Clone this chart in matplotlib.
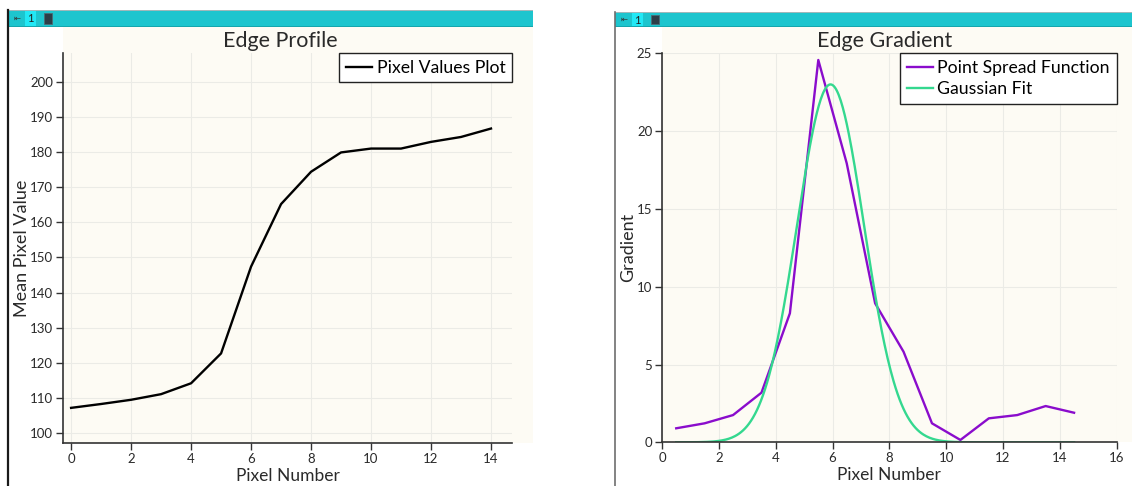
import numpy as np
import matplotlib
matplotlib.use("Agg")
import matplotlib.pyplot as plt
from matplotlib.patches import Rectangle
from matplotlib.lines import Line2D

# ---------------- data ----------------
profile_x = [0, 1, 2, 3, 4, 5, 6, 7, 8, 9, 10, 11, 12, 13, 14]
profile_y = [107.2, 108.3, 109.5, 111.1, 114.2, 122.7, 147.4, 165.2,
             174.4, 179.9, 181.0, 181.0, 182.9, 184.3, 186.7]

psf_x = [0.5, 1.5, 2.5, 3.5, 4.5, 5.5, 6.5, 7.5, 8.5, 9.5, 10.5, 11.5, 12.5, 13.5, 14.5]
psf_y = [0.90, 1.22, 1.75, 3.19, 8.29, 24.57, 17.93, 8.93, 5.82, 1.22,
         0.15, 1.54, 1.75, 2.33, 1.90]

# Gaussian fit parameters (peak height, centre, width, x-range)
gauss_peak = 23.0
gauss_center = 5.93
gauss_sigma = 1.18
gauss_range = (0.5, 14.5)

left_xticks = [0, 2, 4, 6, 8, 10, 12, 14]
left_yticks = [100, 110, 120, 130, 140, 150, 160, 170, 180, 190, 200]
right_xticks = [0, 2, 4, 6, 8, 10, 12, 14, 16]
right_yticks = [0, 5, 10, 15, 20, 25]

# ---------------- style ----------------
W, H = 1132, 486
FONT = "Lato"
plt.rcParams["font.family"] = [FONT, "DejaVu Sans"]
CREAM = "#fdfbf4"
GRID = "#ebebe6"
TEAL = "#1dc5ce"
TXT = "#2a2a2a"

fig = plt.figure(figsize=(W / 100, H / 100), dpi=100)
fig.patch.set_facecolor("white")


def fx(px):
    return px / W


def fy(py):
    return 1 - py / H


def frect(x0, y0, x1, y1, z=0, **kw):
    r = Rectangle((fx(x0), fy(y1)), fx(x1) - fx(x0), fy(y0) - fy(y1),
                  transform=fig.transFigure, zorder=z, **kw)
    fig.patches.append(r)
    return r


# cream background areas behind the plots
frect(63, 27, 533, 443, z=-5, facecolor=CREAM, edgecolor="none")
frect(662, 27, 1132, 442, z=-5, facecolor=CREAM, edgecolor="none")

# view-frame title bars
for (x0, x1, y0) in [(8, 533, 10), (615, 1132, 12)]:
    frect(x0, y0, x1, 27, z=1, facecolor=TEAL, edgecolor="none")
    frect(x0, y0, x1, y0 + 1, z=2, facecolor="#9fb8ba", edgecolor="none")
    frect(x0, 26, x1, 27, z=2, facecolor="#15a6ad", edgecolor="none")
    frect(x0 + 17, y0 + 1, x0 + 28, 26, z=2, facecolor="#22e8f5", edgecolor="none")
    fig.text(fx(x0 + 9), fy((y0 + 27) / 2), "\u21e4", fontsize=6, color="#333333",
             ha="center", va="center", family="DejaVu Sans", zorder=3)
    fig.text(fx(x0 + 22.5), fy((y0 + 27) / 2 + 0.5), "1", fontsize=8, color="#222222",
             ha="center", va="center", zorder=3)
    frect(x0 + 36, y0 + 3.5, x0 + 44, 24, z=3, facecolor="#2c3e48", edgecolor="#4f6a74",
          linewidth=0.6)

# panel left borders
fig.add_artist(Line2D([fx(8), fx(8)], [fy(10), 0], color="#1a1a1a", linewidth=1.6,
                      transform=fig.transFigure, zorder=3))
fig.add_artist(Line2D([fx(615), fx(615)], [fy(12), 0], color="#6e6e6e", linewidth=1.2,
                      transform=fig.transFigure, zorder=3))


def style_axes(ax):
    ax.set_zorder(5)
    ax.set_facecolor(CREAM)
    for s in ("top", "right"):
        ax.spines[s].set_visible(False)
    for s in ("left", "bottom"):
        ax.spines[s].set_color("#333333")
        ax.spines[s].set_linewidth(1.2)
    ax.tick_params(direction="out", length=5, width=1.0, color="#333333",
                   labelsize=9.5, labelcolor=TXT, pad=2)
    ax.grid(True, color=GRID, linewidth=0.8)
    ax.set_axisbelow(True)


def style_legend(ax):
    leg = ax.legend(loc="upper right", borderaxespad=0, fontsize=12.7,
                    frameon=True, fancybox=False, handlelength=1.5,
                    handletextpad=0.25, borderpad=0.38, labelspacing=0.28)
    fr = leg.get_frame()
    fr.set_edgecolor("#222222")
    fr.set_linewidth(1.0)
    fr.set_alpha(1)
    return leg


# ---------------- left: Edge Profile ----------------
axL = fig.add_axes([fx(63), fy(443), fx(512) - fx(63), fy(53) - fy(443)])
style_axes(axL)
axL.plot(profile_x, profile_y, color="black", linewidth=1.7, label="Pixel Values Plot")
axL.set_xlim(-0.27, 14.7)
axL.set_ylim(97.2, 208.2)
axL.set_xticks(left_xticks)
axL.set_yticks(left_yticks)
axL.set_xlabel("Pixel Number", fontsize=12.5, color=TXT, labelpad=2)
axL.set_ylabel("Mean Pixel Value", fontsize=13, color=TXT, va="center")
axL.yaxis.set_label_coords(-0.091, 0.5)
style_legend(axL)
fig.text(fx(280), fy(41), "Edge Profile", fontsize=15.5, color=TXT, ha="center", va="center")

# ---------------- right: Edge Gradient ----------------
axR = fig.add_axes([fx(662), fy(442.3), fx(1116.7) - fx(662), fy(53.3) - fy(442.3)])
style_axes(axR)
axR.plot(psf_x, psf_y, color="#8a0ccc", linewidth=1.7, label="Point Spread Function")
gx = np.linspace(gauss_range[0], gauss_range[1], 400)
gy = gauss_peak * np.exp(-0.5 * ((gx - gauss_center) / gauss_sigma) ** 2)
axR.plot(gx, gy, color="#34d88f", linewidth=1.7, label="Gaussian Fit")
axR.set_xlim(0, 16)
axR.set_ylim(0, 25)
axR.set_xticks(right_xticks)
axR.set_yticks(right_yticks)
axR.set_xlabel("Pixel Number", fontsize=12.5, color=TXT, labelpad=2)
axR.set_ylabel("Gradient", fontsize=13, color=TXT, va="center")
axR.yaxis.set_label_coords(-0.075, 0.5)
style_legend(axR)
fig.text(fx(884.5), fy(41), "Edge Gradient", fontsize=15.5, color=TXT, ha="center", va="center")

fig.savefig("out.png", dpi=100, facecolor="white")
